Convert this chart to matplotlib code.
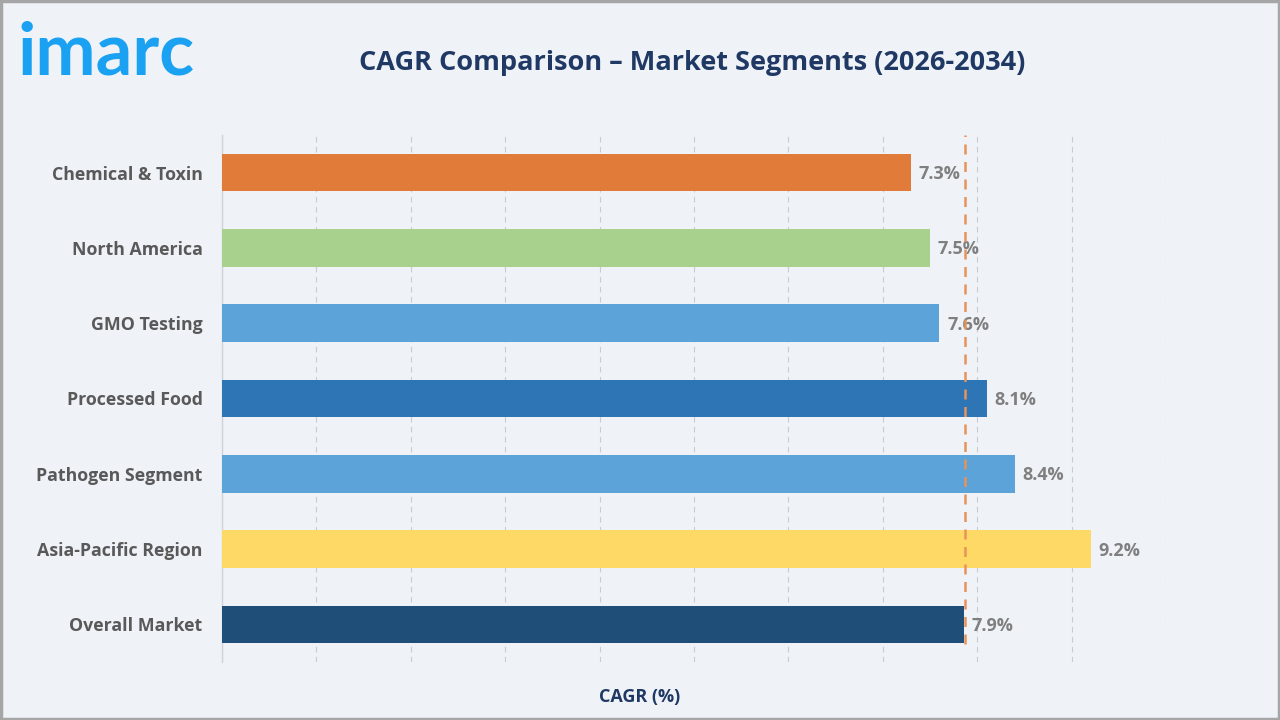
import matplotlib.pyplot as plt

## Data
segments = ["Overall Market", "Asia-Pacific Region", "Pathogen Segment",
            "Processed Food", "GMO Testing", "North America", "Chemical & Toxin"]
cagr = [7.86, 9.2, 8.4, 8.1, 7.6, 7.5, 7.3]
bar_colors = ["#1F4E79", "#FFD966", "#5BA3D9", "#2E75B6",
              "#5BA3D9", "#A9D18E", "#E07B39"]
overall_line = 7.87  # dashed reference line = overall market CAGR

plt.rcParams['font.family'] = ['Open Sans', 'DejaVu Sans']

bg = "#EFF3F8"
fig = plt.figure(figsize=(12.8, 7.2), dpi=100, facecolor=bg)
ax = fig.add_axes([0.1734, 0.0806, 0.7376, 0.7319], facecolor=bg)

ypos = range(len(segments))
ax.barh(ypos, cagr, height=0.5, color=bar_colors, zorder=3)

# value labels
for y, v in zip(ypos, cagr):
    ax.text(v + 0.08, y - 0.02, f"{v:.1f}%", va="center", ha="left",
            fontsize=13, fontweight="bold", color="#7F7F7F", zorder=4)

# overall market reference line
ax.axvline(overall_line, ymin=0.035, ymax=1.0, color="#E8935A",
           linestyle=(0, (4, 3)), linewidth=1.8, zorder=5)

ax.set_xlim(0, 10)
ax.set_ylim(-0.5, len(segments) - 0.5)
ax.set_yticks(list(ypos))
ax.set_yticklabels(segments, fontsize=12.8, fontweight="bold", color="#595959")
ax.tick_params(axis="y", length=0, pad=14)
ax.set_xticks(range(0, 11))
ax.tick_params(axis="x", length=0, labelbottom=False)
ax.grid(axis="x", color="#C8CCD2", linestyle=(0, (5, 4)), linewidth=0.8, zorder=0)

for s in ["top", "right", "bottom"]:
    ax.spines[s].set_visible(False)
ax.spines["left"].set_color("#D0D4DA")
ax.spines["left"].set_linewidth(1)

# axis label is centred on the figure, not the axes
fig.text(0.5, 0.032, "CAGR (%)", ha="center", va="center", fontsize=13,
         fontweight="bold", color="#1F3864")

# title + logo
fig.text(0.541, 0.913, "CAGR Comparison \u2013 Market Segments (2026-2034)",
         ha="center", va="center", fontsize=19.5, fontweight="bold",
         color="#1F3864")
fig.text(0.014, 0.896, "imarc", ha="left", va="baseline", fontsize=52,
         fontweight="bold", color="#1BA1F2", family=["Lato", "DejaVu Sans"])

# gray frame around the picture
frame = plt.Rectangle((0.001, 0.002), 0.998, 0.996, transform=fig.transFigure,
                      fill=False, edgecolor="#A6A6A6", linewidth=2.5)
fig.patches.append(frame)

fig.savefig("out.png", dpi=100, facecolor=bg)
